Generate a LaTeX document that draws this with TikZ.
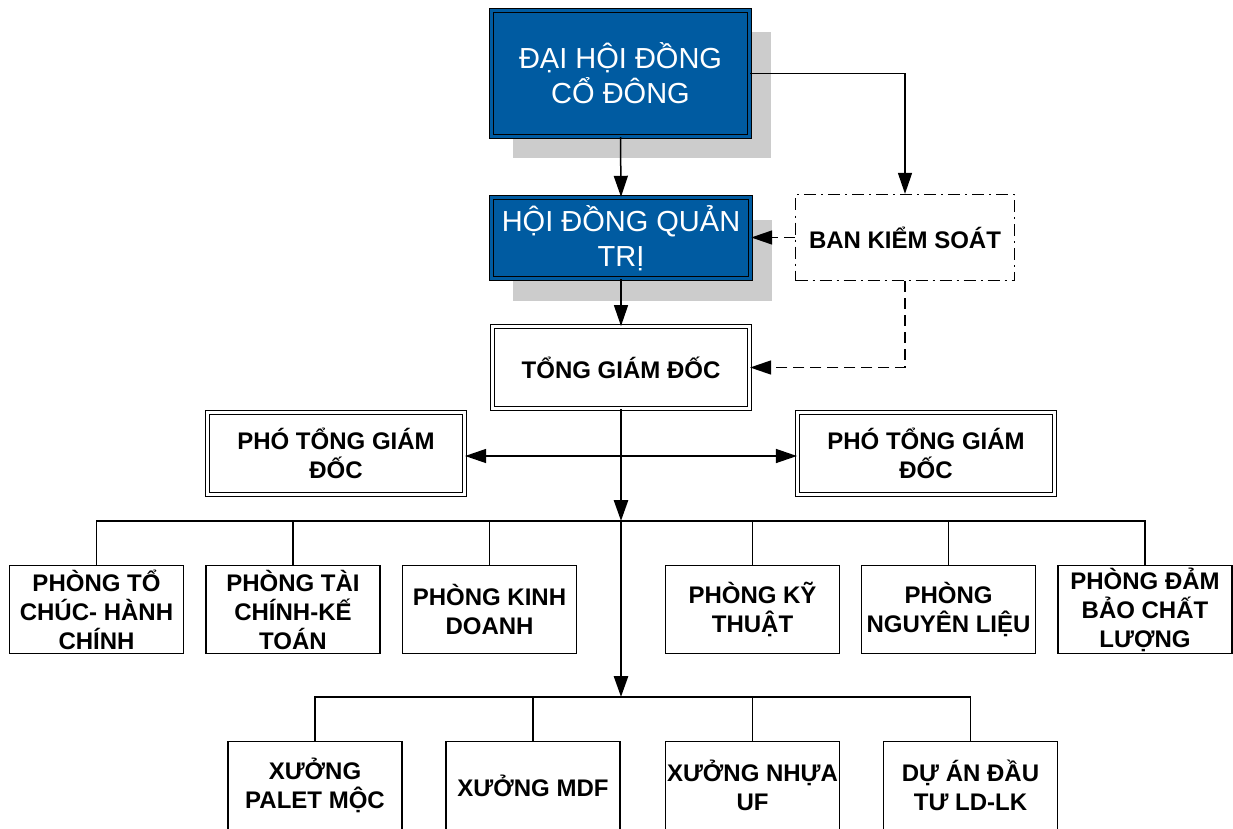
\documentclass[tikz,border=0pt]{standalone}
\usepackage{fontspec}
\setmainfont{Liberation Sans}
\usetikzlibrary{arrows.meta,shadows,calc}
\definecolor{boxblue}{RGB}{0,91,161}
\definecolor{shadowgray}{RGB}{204,204,204}
\begin{document}
\begin{tikzpicture}[x=1pt,y=-1pt,
  tip/.tip={Triangle[length=21pt,width=14pt]},
  bluebox/.style={draw=black, double=boxblue, line width=1.4pt, double distance=2.2pt,
    fill=boxblue, text=white, font=\fontsize{29}{35}\selectfont, align=center, inner sep=0pt,
    drop shadow={shadow xshift=21pt, shadow yshift=-22pt, fill=shadowgray, opacity=1}},
  dbox/.style={draw=black, double=white, line width=1.2pt, double distance=3pt,
    font=\fontsize{24}{29}\selectfont\bfseries, align=center, inner sep=0pt,
    minimum width=257pt, minimum height=81.6pt},
  ksbox/.style={draw=black, line width=1.3pt, dash pattern=on 12pt off 5pt on 2pt off 5pt,
    font=\fontsize{24}{29}\selectfont\bfseries, align=center, inner sep=0pt},
  pbox/.style={draw=black, line width=1.3pt, font=\fontsize{24}{29}\selectfont\bfseries,
    align=center, inner sep=0pt, minimum width=174pt, minimum height=88pt},
  conn/.style={draw=black, line width=1.5pt},
  dconn/.style={draw=black, line width=1.5pt, dash pattern=on 11pt off 6pt},
  tconn/.style={draw=black, line width=2.8pt}
]
\useasboundingbox (0,0) rectangle (1233,829);

% top boxes
\node[bluebox, minimum width=258pt, minimum height=126pt] (dh) at (620.5,73.5) {ĐẠI HỘI ĐỒNG\\CỔ ĐÔNG};
\node[bluebox, minimum width=259pt, minimum height=81pt] (hq) at (621,238) {HỘI ĐỒNG QUẢN\\TRỊ};
\node[ksbox, minimum width=219pt, minimum height=86pt] (ks) at (905,237.5) {BAN KIỂM SOÁT};
\node[dbox] (tg) at (621,367.5) {TỔNG GIÁM ĐỐC};
\node[dbox] (pl) at (336,453.5) {PHÓ TỔNG GIÁM\\ĐỐC};
\node[dbox] (pr) at (926,453.5) {PHÓ TỔNG GIÁM\\ĐỐC};

% departments
\node[pbox] (r1) at (96.5,609.5) {PHÒNG TỔ\\CHÚC- HÀNH\\CHÍNH};
\node[pbox] (r2) at (293,609.5) {PHÒNG TÀI\\CHÍNH-KẾ\\TOÁN};
\node[pbox] (r3) at (489.5,609.5) {PHÒNG KINH\\DOANH};
\node[pbox] (r4) at (752.5,609.5) {PHÒNG KỸ\\THUẬT};
\node[pbox] (r5) at (948.5,609.5) {PHÒNG\\NGUYÊN LIỆU};
\node[pbox] (r6) at (1145,609.5) {PHÒNG ĐẢM\\BẢO CHẤT\\LƯỢNG};

% workshops
\node[pbox] (w1) at (315,785.5) {XƯỞNG\\PALET MỘC};
\node[pbox] (w2) at (533,785.5) {XƯỞNG MDF};
\node[pbox] (w3) at (752.5,785.5) {XƯỞNG NHỰA\\UF};
\node[pbox] (w4) at (970.5,785.5) {DỰ ÁN ĐẦU\\TƯ LD-LK};

\coordinate (b1) at (621,521);
\coordinate (b2) at (621,697);
\coordinate (mid) at (621,456);

% connectors
\draw[conn,-tip] (dh.south) -- (hq.north);
\draw[conn,-tip] (dh.east) -| (ks.north);
\draw[dconn,-tip] (ks.west) -- (ks.west -| hq.east);
\draw[dconn,-tip] (ks.south) |- (tg.east);
\draw[conn,-tip] (hq.south) -- (tg.north);
\draw[conn,tip-tip] (pl.east |- mid) -- (pr.west |- mid);
\draw[tconn,-tip] (tg.south) -- (b1);
\draw[tconn,-tip] (b1) -- (b2);

% bus 1
\draw[conn] (r1.north) |- (b1) -| (r6.north);
\foreach \n in {r2,r3,r4,r5} \draw[conn] (\n.north) -- (\n.north |- b1);
% bus 2
\draw[conn] (w1.north) |- (b2) -| (w4.north);
\foreach \n in {w2,w3} \draw[conn] (\n.north) -- (\n.north |- b2);
\end{tikzpicture}
\end{document}
